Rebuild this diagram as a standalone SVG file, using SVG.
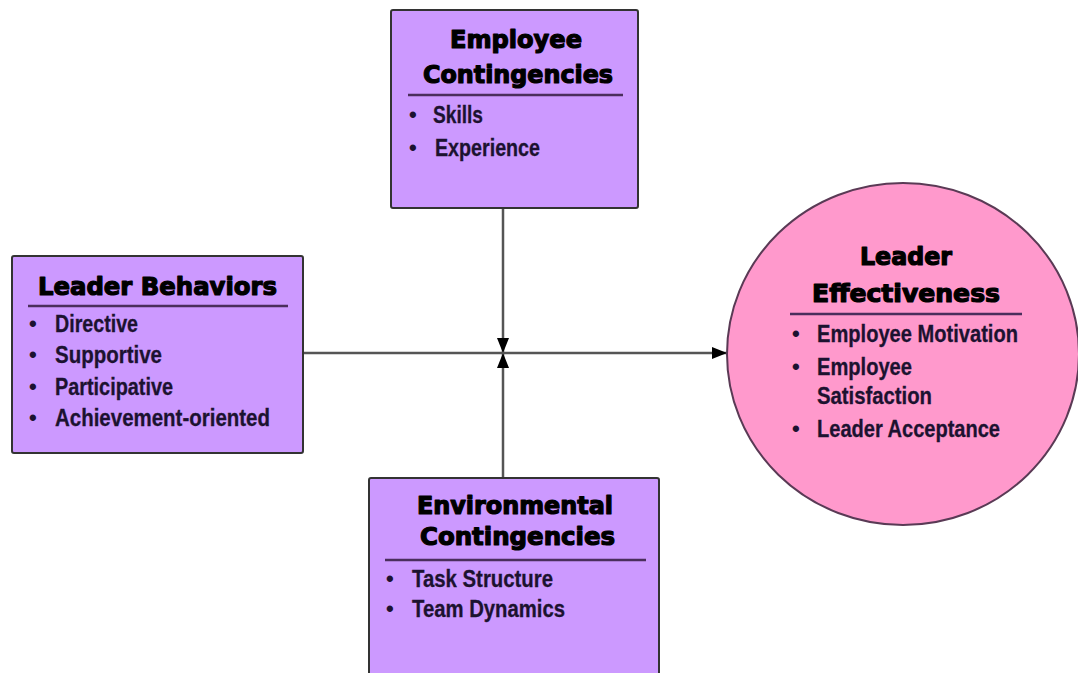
<svg xmlns="http://www.w3.org/2000/svg" width="1078" height="673" viewBox="0 0 1078 673">
  <style>
    .box { fill: #cc99ff; stroke: #333333; stroke-width: 2; }
    .oval { fill: #ff99cc; stroke: #5a3a55; stroke-width: 2; }
    .rule { stroke: #4a2e5c; stroke-width: 2.5; }
    .title { font-family: "DejaVu Sans", "Liberation Sans", sans-serif; font-weight: bold; font-size: 24px; fill: #000000; stroke: #000000; stroke-width: 1.2; stroke-linejoin: round; text-anchor: middle; }
    .item { font-family: "Liberation Sans Narrow", "Liberation Sans", sans-serif; font-weight: bold; font-size: 24px; fill: #1c1230; stroke: #1c1230; stroke-width: 0.3; }
    .dot { font-family: "Liberation Sans", sans-serif; font-weight: bold; font-size: 22px; fill: #1c1230; }
    .wire { stroke: #555555; stroke-width: 2.5; fill: none; }
  </style>
  <defs>
    <marker id="arrow" viewBox="0 0 15 12" refX="15" refY="6" markerWidth="15" markerHeight="12" markerUnits="userSpaceOnUse" orient="auto">
      <path d="M0,0 L15,6 L0,12 z" fill="#000000"/>
    </marker>
  </defs>

  <rect width="1078" height="673" fill="#ffffff"/>

  <!-- connectors -->
  <g id="connectors">
    <line class="wire" x1="503" y1="208" x2="503" y2="353" marker-end="url(#arrow)"/>
    <line class="wire" x1="503" y1="478" x2="503" y2="353" marker-end="url(#arrow)"/>
    <line class="wire" x1="303" y1="353" x2="727" y2="353" marker-end="url(#arrow)"/>
  </g>

  <!-- employee contingencies -->
  <g id="employee-contingencies">
    <rect class="box" x="391" y="10" width="247" height="198" rx="2"/>
    <text class="title" x="516" y="48" textLength="132" lengthAdjust="spacingAndGlyphs">Employee</text>
    <text class="title" x="518" y="83" textLength="190" lengthAdjust="spacingAndGlyphs">Contingencies</text>
    <line class="rule" x1="408" y1="95" x2="623" y2="95"/>
    <text class="dot" x="409" y="122">•</text>
    <text class="item" x="433" y="123" textLength="50" lengthAdjust="spacingAndGlyphs">Skills</text>
    <text class="dot" x="409" y="155">•</text>
    <text class="item" x="435" y="156" textLength="105" lengthAdjust="spacingAndGlyphs">Experience</text>
  </g>

  <!-- leader behaviors -->
  <g id="leader-behaviors">
    <rect class="box" x="12" y="256" width="291" height="197" rx="2"/>
    <text class="title" x="157.5" y="295" textLength="239" lengthAdjust="spacingAndGlyphs">Leader Behaviors</text>
    <line class="rule" x1="28" y1="306" x2="288" y2="306"/>
    <text class="dot" x="29" y="331">•</text>
    <text class="item" x="55" y="332" textLength="83" lengthAdjust="spacingAndGlyphs">Directive</text>
    <text class="dot" x="29" y="362">•</text>
    <text class="item" x="55" y="363" textLength="107" lengthAdjust="spacingAndGlyphs">Supportive</text>
    <text class="dot" x="29" y="394">•</text>
    <text class="item" x="55" y="395" textLength="118" lengthAdjust="spacingAndGlyphs">Participative</text>
    <text class="dot" x="29" y="425">•</text>
    <text class="item" x="55" y="426" textLength="215" lengthAdjust="spacingAndGlyphs">Achievement-oriented</text>
  </g>

  <!-- environmental contingencies -->
  <g id="environmental-contingencies">
    <rect class="box" x="369" y="478" width="290" height="210" rx="2"/>
    <text class="title" x="515" y="514" textLength="196" lengthAdjust="spacingAndGlyphs">Environmental</text>
    <text class="title" x="517.5" y="545" textLength="195" lengthAdjust="spacingAndGlyphs">Contingencies</text>
    <line class="rule" x1="385" y1="560" x2="646" y2="560"/>
    <text class="dot" x="386" y="586">•</text>
    <text class="item" x="412" y="587" textLength="141" lengthAdjust="spacingAndGlyphs">Task Structure</text>
    <text class="dot" x="386" y="616">•</text>
    <text class="item" x="412" y="617" textLength="153" lengthAdjust="spacingAndGlyphs">Team Dynamics</text>
  </g>

  <!-- leader effectiveness -->
  <g id="leader-effectiveness">
    <ellipse class="oval" cx="903" cy="354" rx="176" ry="171"/>
    <text class="title" x="906" y="265" textLength="92" lengthAdjust="spacingAndGlyphs">Leader</text>
    <text class="title" x="906" y="302" textLength="188" lengthAdjust="spacingAndGlyphs">Effectiveness</text>
    <line class="rule" x1="790" y1="314" x2="1022" y2="314"/>
    <text class="dot" x="792" y="341">•</text>
    <text class="item" x="817" y="342" textLength="201" lengthAdjust="spacingAndGlyphs">Employee Motivation</text>
    <text class="dot" x="792" y="374">•</text>
    <text class="item" x="817" y="375" textLength="95" lengthAdjust="spacingAndGlyphs">Employee</text>
    <text class="item" x="817" y="404" textLength="115" lengthAdjust="spacingAndGlyphs">Satisfaction</text>
    <text class="dot" x="792" y="436">•</text>
    <text class="item" x="817" y="437" textLength="183" lengthAdjust="spacingAndGlyphs">Leader Acceptance</text>
  </g>
</svg>
